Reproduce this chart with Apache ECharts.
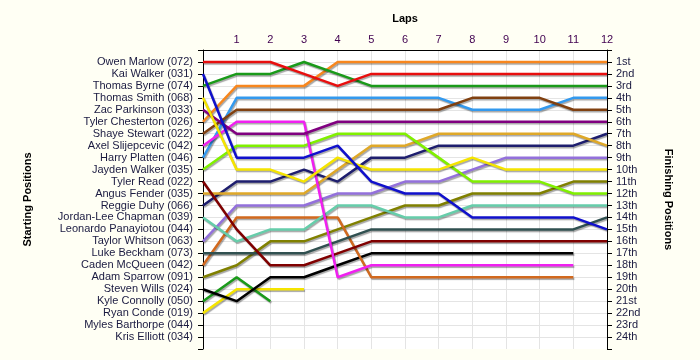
<!DOCTYPE html>
<html>
<head>
<meta charset="utf-8">
<script src="https://cdn.jsdelivr.net/npm/echarts@6/dist/echarts.min.js"></script>
<style>
html,body{margin:0;padding:0;background:#fffff4;}
#chart{width:700px;height:360px;}
</style>
</head>
<body>
<div id="chart"></div>
<script>
// ---- data ----
const laps = [0,1,2,3,4,5,6,7,8,9,10,11,12];
const startLabels = [
  'Owen Marlow (072)','Kai Walker (031)','Thomas Byrne (074)','Thomas Smith (068)',
  'Zac Parkinson (033)','Tyler Chesterton (026)','Shaye Stewart (022)','Axel Slijepcevic (042)',
  'Harry Platten (046)','Jayden Walker (035)','Tyler Read (022)','Angus Fender (035)',
  'Reggie Duhy (066)','Jordan-Lee Chapman (039)','Leonardo Panayiotou (044)','Taylor Whitson (063)',
  'Luke Beckham (073)','Caden McQueen (042)','Adam Sparrow (091)','Steven Wills (024)',
  'Kyle Connolly (050)','Ryan Conde (019)','Myles Barthorpe (044)','Kris Elliott (034)'
];
const finishLabels = ['1st','2nd','3rd','4th','5th','6th','7th','8th','9th','10th','11th','12th',
  '13th','14th','15th','16th','17th','18th','19th','20th','21st','22nd','23rd','24th'];

// position per lap (lap 0 = start)
const owenMarlow       = [1,1,1,2,3,2,2,2,2,2,2,2,2];
const kaiWalker        = [2,9,9,9,8,11,12,12,14,14,14,14,15];
const thomasByrne      = [3,2,2,1,2,3,3,3,3,3,3,3,3];
const thomasSmith      = [4,10,10,11,9,10,10,10,9,10,10,10,10];
const zacParkinson     = [5,7,7,7,6,6,6,6,6,6,6,6,6];
const tylerChesterton  = [6,3,3,3,1,1,1,1,1,1,1,1,1];
const shayeStewart     = [7,5,5,5,5,5,5,5,4,4,4,5,5];
const axelSlijepcevic  = [8,6,6,6,19,18,18,18,18,18,18,18];
const harryPlatten     = [9,4,4,4,4,4,4,4,5,5,5,4,4];
const jaydenWalker     = [10,8,8,8,7,7,7,9,11,11,11,12,12];
const tylerRead        = [11,15,18,18,17,16,16,16,16,16,16,16,16];
const angusFender      = [12,12,12,12,10,8,8,7,7,7,7,7,8];
const reggieDuhy       = [13,11,11,10,11,9,9,8,8,8,8,8,7];
const jordanLeeChapman = [14,16,15,15,13,13,14,14,13,13,13,13,13];
const taylorWhitson    = [16,13,13,13,12,12,11,11,10,9,9,9,9];
const lukeBeckham      = [17,17,17,17,16,15,15,15,15,15,15,15,14];
const cadenMcQueen     = [18,14,14,14,14,19,19,19,19,19,19,19];
const adamSparrow      = [19,18,16,16,15,14,13,13,12,12,12,11,11];
const stevenWills      = [20,21,19,19,18,17,17,17,17,17,17,17];
const kyleConnolly     = [21,19,21];
const ryanConde        = [22,20,20,20];

const seriesNames = ['Owen Marlow (072)','Kai Walker (031)','Thomas Byrne (074)','Thomas Smith (068)',
  'Zac Parkinson (033)','Tyler Chesterton (026)','Shaye Stewart (022)','Axel Slijepcevic (042)',
  'Harry Platten (046)','Jayden Walker (035)','Tyler Read (022)','Angus Fender (035)',
  'Reggie Duhy (066)','Jordan-Lee Chapman (039)','Taylor Whitson (063)','Luke Beckham (073)',
  'Caden McQueen (042)','Adam Sparrow (091)','Steven Wills (024)','Kyle Connolly (050)','Ryan Conde (019)'];
const seriesData = [owenMarlow,kaiWalker,thomasByrne,thomasSmith,zacParkinson,tylerChesterton,
  shayeStewart,axelSlijepcevic,harryPlatten,jaydenWalker,tylerRead,angusFender,reggieDuhy,
  jordanLeeChapman,taylorWhitson,lukeBeckham,cadenMcQueen,adamSparrow,stevenWills,kyleConnolly,ryanConde];
const seriesColors = ['#e80e0e','#1010cc','#1a9a1a','#f5e400','#800080','#f7861e',
  '#804010','#f020f0','#3399ee','#80f000','#800000','#dfa828','#1e1e6e',
  '#66cdaa','#9370db','#305050','#d2691e','#808000','#000000','#1a9a1a','#f5e400'];

// ---- chart ----
const chart = echarts.init(document.getElementById('chart'), null, {renderer:'canvas'});
const FONT = 'Liberation Sans, Arial, sans-serif';
const series = seriesData.map((arr, k) => ({
  type: 'line',
  name: seriesNames[k],
  data: arr.map((p, i) => [laps[i], p]),
  symbol: 'none',
  yAxisIndex: 0,
  z: 2 + (seriesData.length - k) * 0.01,
  lineStyle: {
    color: seriesColors[k], width: 2.5,
    shadowColor: 'rgba(0,0,0,0.35)', shadowBlur: 1, shadowOffsetX: 1, shadowOffsetY: 1.5
  },
  emphasis: {disabled: true}
}));

chart.setOption({
  backgroundColor: '#fffff4',
  animation: false,
  grid: {left: 203, right: 93, top: 50, bottom: 11, show: true, backgroundColor: '#ffffff', borderWidth: 0},
  xAxis: {
    type: 'value', position: 'top', min: 0, max: 12, interval: 1,
    name: 'Laps', nameLocation: 'middle', nameGap: 26,
    nameTextStyle: {fontFamily: FONT, fontSize: 11, fontWeight: 'bold', color: '#000'},
    axisLine: {show: true, lineStyle: {color: '#000', width: 1}},
    axisTick: {show: false},
    axisLabel: {margin: 5, fontFamily: FONT, fontSize: 11, color: '#400050',
      formatter: v => v === 0 ? '' : String(v)},
    splitLine: {show: true, lineStyle: {color: '#e4e4e4', width: 1}}
  },
  yAxis: [{
    type: 'value', position: 'left', min: 0, max: 25, interval: 1, inverse: true,
    name: 'Starting Positions', nameLocation: 'middle', nameGap: 170,
    nameTextStyle: {fontFamily: FONT, fontSize: 11, fontWeight: 'bold', color: '#000'},
    axisLine: {show: true, lineStyle: {color: '#000', width: 1}},
    axisTick: {show: true, length: 5, lineStyle: {color: '#000'}},
    axisLabel: {margin: 10, fontFamily: FONT, fontSize: 11, color: '#1a1a40',
      formatter: v => startLabels[v - 1] || ''},
    splitLine: {show: true, showMinLine: false, showMaxLine: false, lineStyle: {color: '#e4e4e4', width: 1}}
  }, {
    type: 'value', position: 'right', min: 0, max: 25, interval: 1, inverse: true,
    name: 'Finishing Positions', nameLocation: 'middle', nameGap: 56, nameRotate: -90,
    nameTextStyle: {fontFamily: FONT, fontSize: 11, fontWeight: 'bold', color: '#000'},
    axisLine: {show: true, lineStyle: {color: '#000', width: 1}},
    axisTick: {show: true, length: 5, lineStyle: {color: '#000'}},
    axisLabel: {margin: 9, fontFamily: FONT, fontSize: 11, color: '#1a1a40',
      formatter: v => finishLabels[v - 1] || ''},
    splitLine: {show: false}
  }],
  series: series
});
</script>
</body>
</html>
